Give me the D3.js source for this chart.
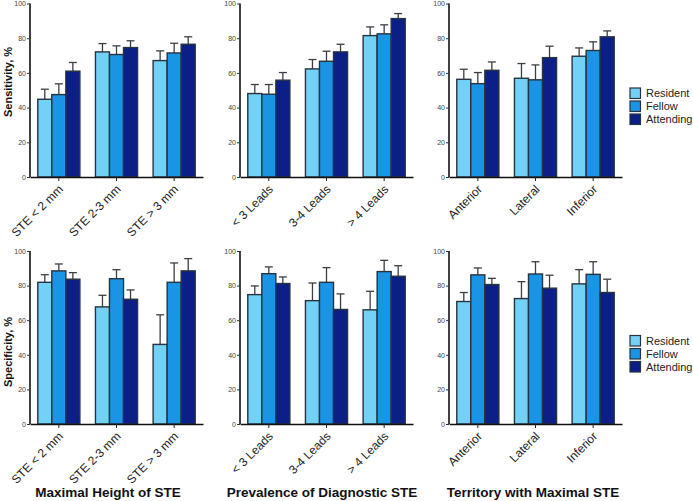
<!DOCTYPE html>
<html><head><meta charset="utf-8">
<script src="https://cdn.jsdelivr.net/npm/d3@7"></script>
<style>body{margin:0;background:#fff}svg{display:block}</style>
</head><body><svg id="c" width="693" height="501"></svg>
<script>
const series = ["Resident","Fellow","Attending"];
const colors = ["#74d1f6","#1a94e4","#0c1f86"];
const catHeight = ["STE < 2 mm","STE 2-3 mm","STE > 3 mm"];
const catPrev = ["< 3 Leads","3-4 Leads","> 4 Leads"];
const catTerr = ["Anterior","Lateral","Inferior"];
const groupTitles = ["Maximal Height of STE","Prevalence of Diagnostic STE","Territory with Maximal STE"];
const rowTitles = ["Sensitivity, %","Specificity, %"];
const yTicks = [0,20,40,60,80,100];

// Sensitivity: [category][Resident, Fellow, Attending]
const sensHeight    = [[44.8,47.5,61.0],[72.1,70.6,74.6],[67.1,71.5,76.5]];
const sensHeightErr = [[50.6,53.7,66.0],[76.9,75.6,78.5],[72.7,77.1,80.8]];
const sensPrev      = [[48.1,47.7,55.8],[62.3,66.7,72.1],[81.5,82.5,91.3]];
const sensPrevErr   = [[53.3,53.3,60.2],[67.7,72.5,76.5],[86.5,87.7,94.2]];
const sensTerr      = [[56.3,53.8,61.5],[56.9,56.0,68.8],[69.6,72.9,80.8]];
const sensTerrErr   = [[62.1,60.2,66.3],[65.4,64.6,75.4],[74.4,77.9,84.2]];
// Specificity
const specHeight    = [[81.9,88.5,83.7],[67.7,84.0,72.1],[46.0,81.9,88.5]];
const specHeightErr = [[86.3,92.5,87.5],[74.4,89.2,77.5],[63.1,93.1,95.6]];
const specPrev      = [[74.8,86.9,81.2],[71.3,81.9,66.2],[66.0,88.1,85.4]];
const specPrevErr   = [[79.8,90.8,85.0],[81.5,90.4,75.2],[76.7,94.6,91.5]];
const specTerr      = [[70.8,86.2,80.6],[72.5,86.7,78.5],[81.0,86.5,76.0]];
const specTerrErr   = [[76.0,90.2,84.2],[82.3,93.8,86.0],[89.2,93.8,83.7]];

const panels = [
  {row:0,col:0,cats:catHeight,vals:sensHeight,errs:sensHeightErr},
  {row:0,col:1,cats:catPrev,vals:sensPrev,errs:sensPrevErr},
  {row:0,col:2,cats:catTerr,vals:sensTerr,errs:sensTerrErr},
  {row:1,col:0,cats:catHeight,vals:specHeight,errs:specHeightErr},
  {row:1,col:1,cats:catPrev,vals:specPrev,errs:specPrevErr},
  {row:1,col:2,cats:catTerr,vals:specTerr,errs:specTerrErr}
];

const svg = d3.select("#c");
const colX = [30,240,449];
const W = 173;
const rows = [{y0:177,y1:3.5},{y0:424,y1:251}];
const font = "Arial, 'Liberation Sans', Helvetica, sans-serif";

panels.forEach(p => {
  const x0 = colX[p.col], r = rows[p.row];
  const x = d3.scaleBand().domain(p.cats).range([x0, x0+W]).paddingInner(0.27).paddingOuter(0.135);
  const xs = d3.scaleBand().domain(series).range([0, x.bandwidth()]);
  const y = d3.scaleLinear().domain([0,100]).range([r.y0, r.y1]);
  const g = svg.append("g");

  p.cats.forEach((c, ci) => {
    const gg = g.append("g").attr("transform", `translate(${x(c)},0)`);
    series.forEach((s, si) => {
      const v = p.vals[ci][si], e = p.errs[ci][si];
      const bx = xs(s), bw = xs.bandwidth();
      gg.append("line").attr("x1", bx+bw/2).attr("x2", bx+bw/2)
        .attr("y1", y(v)).attr("y2", y(e)).attr("stroke","#3a3f45").attr("stroke-width",1.3);
      gg.append("line").attr("x1", bx+bw/2-4).attr("x2", bx+bw/2+4)
        .attr("y1", y(e)).attr("y2", y(e)).attr("stroke","#3a3f45").attr("stroke-width",1.3);
      gg.append("rect").attr("x", bx).attr("y", y(v)).attr("width", bw).attr("height", y(0)-y(v))
        .attr("fill", colors[si]).attr("stroke","#27333f").attr("stroke-width",1.4);
    });
  });

  const ya = g.append("g").attr("transform",`translate(${x0},0)`)
    .call(d3.axisLeft(y).tickValues(yTicks).tickSize(3).tickPadding(1));
  ya.select(".domain").attr("stroke","#111").attr("stroke-width",1.6).attr("d", `M0,${r.y0}V${r.y1}`);
  ya.selectAll(".tick line").attr("stroke","#333");
  ya.selectAll(".tick text").attr("font-size",7).attr("font-family",font).attr("fill","#444");

  const xa = g.append("g").attr("transform",`translate(0,${r.y0})`)
    .call(d3.axisBottom(x).tickSize(4).tickSizeOuter(0));
  xa.select(".domain").attr("stroke","#111").attr("stroke-width",1.6);
  xa.selectAll(".tick line").attr("stroke","#222");
  xa.selectAll(".tick text").attr("font-size",12).attr("font-family",font).attr("fill","#222")
    .attr("text-anchor","end").attr("dy",0).attr("y",0)
    .attr("transform","translate(5,13) rotate(-45)");
});

// row titles
const rowTitleY = [82, 352];
rowTitles.forEach((t,i) => {
  svg.append("text").attr("transform",`translate(12,${rowTitleY[i]}) rotate(-90)`)
    .attr("text-anchor","middle").attr("font-family",font).attr("font-weight","bold")
    .attr("font-size",11).attr("fill","#111").text(t);
});

// group titles
const titleX = [108, 322, 533];
groupTitles.forEach((t,i) => {
  svg.append("text").attr("x", titleX[i]).attr("y", 497).attr("text-anchor","middle")
    .attr("font-family",font).attr("font-weight","bold").attr("font-size",13.5).attr("fill","#111").text(t);
});

// legends
[88, 335.5].forEach(ly => {
  const lg = svg.append("g").attr("transform",`translate(630,${ly})`);
  series.forEach((s,i) => {
    lg.append("rect").attr("x",0).attr("y",i*13).attr("width",10.5).attr("height",10.5)
      .attr("fill",colors[i]).attr("stroke","#27333f").attr("stroke-width",1.2);
    lg.append("text").attr("x",16).attr("y",i*13+5.5).attr("dy","0.35em")
      .attr("font-family",font).attr("font-size",11).attr("fill","#222").text(s);
  });
});
</script></body></html>
